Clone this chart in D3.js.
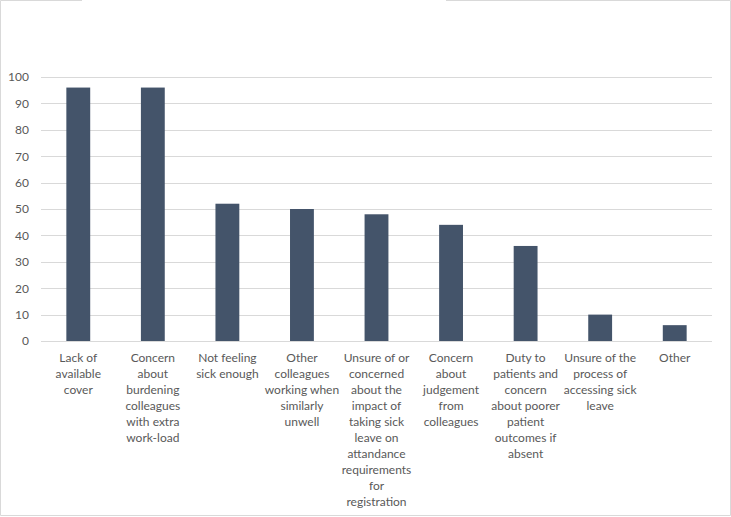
<!DOCTYPE html>
<html>
<head>
<meta charset="utf-8">
<script src="https://cdn.jsdelivr.net/npm/d3@7"></script>
<style>
  body { margin: 0; background: #fff; }
  #chart { width: 731px; height: 517px; }
  text { font-family: Lato, "Open Sans", sans-serif; fill: #595959; }
</style>
</head>
<body>
<div id="chart"></div>
<script>
var categories = [
    ["Lack of", "available", "cover"],
    ["Concern", "about", "burdening", "colleagues", "with extra", "work-load"],
    ["Not feeling", "sick enough"],
    ["Other", "colleagues", "working when", "similarly", "unwell"],
    ["Unsure of or", "concerned", "about the", "impact of", "taking sick", "leave on", "attandance", "requirements", "for", "registration"],
    ["Concern", "about", "judgement", "from", "colleagues"],
    ["Duty to", "patients and", "concern", "about poorer", "patient", "outcomes if", "absent"],
    ["Unsure of the", "process of", "accessing sick", "leave"],
    ["Other"]
];
var values = [96, 96, 52, 50, 48, 44, 36, 10, 6];
var yTicks = [0, 10, 20, 30, 40, 50, 60, 70, 80, 90, 100];

var width = 731, height = 517;
var margin = {top: 77, left: 41, right: 19, bottom: 176};

var svg = d3.select("#chart")
    .append("svg")
    .attr("width", width)
    .attr("height", height);

// outer frame (top edge broken where the title was)
svg.append("path")
    .attr("d", "M82,0.5 H0.5 V515.5 H730.5 V0.5 H446")
    .attr("fill", "none")
    .attr("stroke", "#d9d9d9");

var xScale = d3.scaleBand()
    .domain(d3.range(categories.length))
    .range([margin.left, width - margin.right])
    .paddingInner(0.68)
    .paddingOuter(0.34);

var yScale = d3.scaleLinear()
    .domain([0, 100])
    .range([height - margin.bottom, margin.top]);

// gridlines
svg.append("g")
    .selectAll("line")
    .data(yTicks)
    .enter()
    .append("line")
        .attr("x1", margin.left)
        .attr("x2", width - margin.right)
        .attr("y1", function(d) { return Math.round(yScale(d)) + 0.5; })
        .attr("y2", function(d) { return Math.round(yScale(d)) + 0.5; })
        .attr("stroke", "#d9d9d9")
        .attr("stroke-width", 1);

var yAxis = svg.append("g")
    .attr("transform", `translate(${margin.left},0)`)
    .call(d3.axisLeft(yScale).tickValues(yTicks).tickSize(0).tickPadding(12));
yAxis.select(".domain").remove();
yAxis.selectAll("text")
    .style("font-size", "12px")
    .attr("fill", "#595959");

svg.append("g")
    .selectAll("rect")
    .data(values)
    .enter()
    .append("rect")
        .attr("x", function(d, i) { return xScale(i); })
        .attr("width", xScale.bandwidth())
        .attr("y", function(d) { return yScale(d); })
        .attr("height", function(d) { return yScale(0) - yScale(d); })
        .attr("fill", "#44546a");

var labels = svg.append("g")
    .selectAll("text")
    .data(categories)
    .enter()
    .append("text")
        .attr("text-anchor", "middle")
        .style("font-size", "12px")
        .attr("transform", function(d, i) {
            return `translate(${xScale(i) + xScale.bandwidth() / 2},${yScale(0) + 21})`;
        });

labels.selectAll("tspan")
    .data(function(d) { return d; })
    .enter()
    .append("tspan")
        .attr("x", 0)
        .attr("y", function(d, j) { return j * 16; })
        .text(function(d) { return d; });
</script>
</body>
</html>
